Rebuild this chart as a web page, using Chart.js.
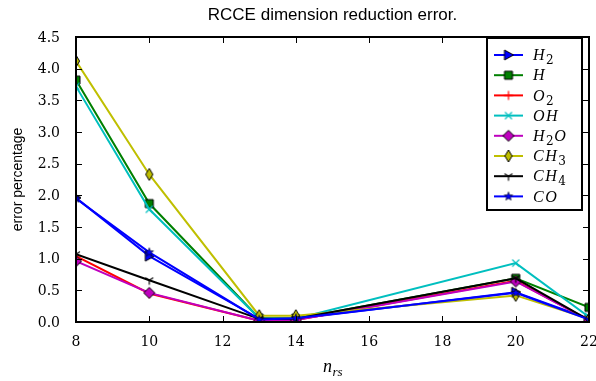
<!DOCTYPE html>
<html><head><meta charset="utf-8">
<script src="https://cdn.jsdelivr.net/npm/chart.js@4/dist/chart.umd.min.js"></script>
<style>html,body{margin:0;padding:0;background:#fff}#wrap{width:596px;height:381px}</style>
</head><body><div id="wrap"><canvas id="c" width="596" height="381"></canvas></div>
<script>
const xValues = [8, 10, 13, 14, 20, 22];
const seriesNames = ["H2", "H", "O2", "OH", "H2O", "CH3", "CH4", "CO"];
const H2  = [1.96, 1.04, 0.05, 0.05, 0.47, 0.05];
const H   = [3.82, 1.87, 0.06, 0.05, 0.69, 0.23];
const O2  = [1.04, 0.45, 0.02, 0.03, 0.65, 0.03];
const OH  = [3.72, 1.78, 0.06, 0.05, 0.93, 0.08];
const H2O = [0.96, 0.46, 0.02, 0.03, 0.64, 0.03];
const CH3 = [4.12, 2.33, 0.10, 0.10, 0.42, 0.05];
const CH4 = [1.07, 0.66, 0.05, 0.05, 0.69, 0.03];
const CO  = [1.95, 1.10, 0.04, 0.06, 0.46, 0.04];
const xTicks = [8, 10, 12, 14, 16, 18, 20, 22];
const yTicks = [0, 0.5, 1, 1.5, 2, 2.5, 3, 3.5, 4, 4.5];

const seriesValues = [H2, H, O2, OH, H2O, CH3, CH4, CO];
const colors = ["#0000ff", "#008000", "#ff0000", "#00bfbf", "#bf00bf", "#bfbf00", "#000000", "#0000ff"];
const markers = ["triRight", "square", "plus", "x", "diamond", "thinDiamond", "triDown", "star"];

function makeMarker(kind, color) {
  const s = 14, c = document.createElement('canvas');
  c.width = s; c.height = s;
  const g = c.getContext('2d');
  const m = s / 2;
  g.lineJoin = 'miter';
  g.fillStyle = color; g.strokeStyle = '#000'; g.lineWidth = 1;
  g.beginPath();
  if (kind === 'triRight') {
    g.moveTo(m + 5, m); g.lineTo(m - 4, m - 5); g.lineTo(m - 4, m + 5); g.closePath(); g.fill(); g.stroke();
  } else if (kind === 'square') {
    g.rect(m - 4, m - 4, 8, 8); g.fill(); g.stroke();
  } else if (kind === 'diamond') {
    g.moveTo(m, m - 5.5); g.lineTo(m + 5.5, m); g.lineTo(m, m + 5.5); g.lineTo(m - 5.5, m); g.closePath(); g.fill(); g.stroke();
  } else if (kind === 'thinDiamond') {
    g.moveTo(m, m - 6); g.lineTo(m + 3.6, m); g.lineTo(m, m + 6); g.lineTo(m - 3.6, m); g.closePath(); g.fill(); g.stroke();
  } else if (kind === 'plus') {
    g.strokeStyle = color; g.lineWidth = 1.2;
    g.moveTo(m - 4.5, m); g.lineTo(m + 4.5, m); g.moveTo(m, m - 4.5); g.lineTo(m, m + 4.5); g.stroke();
  } else if (kind === 'x') {
    g.strokeStyle = color; g.lineWidth = 1.2;
    g.moveTo(m - 3.5, m - 3.5); g.lineTo(m + 3.5, m + 3.5); g.moveTo(m + 3.5, m - 3.5); g.lineTo(m - 3.5, m + 3.5); g.stroke();
  } else if (kind === 'triDown') {
    g.strokeStyle = color; g.lineWidth = 1.2;
    g.moveTo(m, m); g.lineTo(m, m + 4.5); g.moveTo(m, m); g.lineTo(m - 4, m - 2.5); g.moveTo(m, m); g.lineTo(m + 4, m - 2.5); g.stroke();
  } else if (kind === 'star') {
    const R = 4.5, r = 1.9;
    for (let i = 0; i < 10; i++) {
      const a = -Math.PI / 2 + i * Math.PI / 5, rr = i % 2 ? r : R;
      const px = m + rr * Math.cos(a), py = m + rr * Math.sin(a);
      i ? g.lineTo(px, py) : g.moveTo(px, py);
    }
    g.closePath(); g.fill(); g.lineWidth = 0.6; g.stroke();
  }
  return c;
}
const markerImgs = markers.map((k, i) => makeMarker(k, colors[i]));

const datasets = seriesNames.map((name, i) => ({
  label: name,
  data: xValues.map((x, j) => ({ x: x, y: seriesValues[i][j] })),
  borderColor: colors[i],
  backgroundColor: colors[i],
  borderWidth: 2,
  pointStyle: markerImgs[i],
  pointRadius: 5,
  tension: 0,
  clip: 0,
  order: seriesNames.length - i
}));

function drawLabel(g, text, x, y, size) {
  // italic serif math text; digits become subscripts
  let cx = x;
  for (const ch of text) {
    if (/[0-9]/.test(ch)) {
      g.font = Math.round(size * 0.75) + 'px "DejaVu Serif"';
      g.fillText(ch, cx, y + size * 0.32);
      cx += g.measureText(ch).width + 0.5;
    } else {
      g.font = 'italic ' + size + 'px "Liberation Serif"';
      g.fillText(ch, cx, y);
      cx += g.measureText(ch).width + 1.5;
    }
  }
}

const decor = {
  id: 'decor',
  afterDatasetsDraw(chart) {
    const g = chart.ctx, a = chart.chartArea;
    const xs = chart.scales.x, ys = chart.scales.y;
    g.save();
    // frame
    g.strokeStyle = '#000'; g.lineWidth = 2;
    g.strokeRect(a.left, a.top, a.right - a.left, a.bottom - a.top);
    // inward ticks
    g.lineWidth = 1;
    g.beginPath();
    for (const t of xTicks) {
      const px = Math.round(xs.getPixelForValue(t)) + 0.5;
      g.moveTo(px, a.bottom); g.lineTo(px, a.bottom - 6);
      g.moveTo(px, a.top); g.lineTo(px, a.top + 6);
    }
    for (const t of yTicks) {
      const py = Math.round(ys.getPixelForValue(t)) + 0.5;
      g.moveTo(a.left, py); g.lineTo(a.left + 6, py);
      g.moveTo(a.right, py); g.lineTo(a.right - 6, py);
    }
    g.stroke();
    // tick labels
    g.fillStyle = '#000';
    g.font = '14px "DejaVu Serif"';
    g.textAlign = 'center'; g.textBaseline = 'middle';
    for (const t of xTicks) g.fillText(String(t), xs.getPixelForValue(t), a.bottom + 20);
    g.textAlign = 'right';
    for (const t of yTicks) g.fillText(t.toFixed(1), a.left - 16, ys.getPixelForValue(t) + 1);
    // title
    g.textAlign = 'center'; g.textBaseline = 'alphabetic';
    g.font = '17px "Liberation Sans"';
    g.fillText('RCCE dimension reduction error.', (a.left + a.right) / 2, 20);
    // y label
    g.save();
    g.translate(22, (a.top + a.bottom) / 2);
    g.rotate(-Math.PI / 2);
    g.font = '14px "Liberation Sans"';
    g.fillText('error percentage', 0, 0);
    g.restore();
    // x label n_rs
    g.textAlign = 'left';
    const cx = (a.left + a.right) / 2;
    g.font = 'italic 18px "Liberation Serif"';
    const nw = g.measureText('n').width;
    g.font = 'italic 13px "Liberation Serif"';
    const sw = g.measureText('rs').width;
    const sx = cx - (nw + sw) / 2;
    g.font = 'italic 18px "Liberation Serif"';
    g.fillText('n', sx, 372);
    g.font = 'italic 13px "Liberation Serif"';
    g.fillText('rs', sx + nw + 0.5, 376);
    // legend
    const lx = 487, ly = 38, lw = 95, lh = 172;
    g.fillStyle = '#fff';
    g.fillRect(lx, ly, lw, lh);
    g.strokeStyle = '#000'; g.lineWidth = 2;
    g.strokeRect(lx, ly, lw, lh);
    seriesNames.forEach((name, i) => {
      const y = ly + 17 + i * 20.2;
      g.strokeStyle = colors[i]; g.lineWidth = 2;
      g.beginPath(); g.moveTo(lx + 7, y); g.lineTo(lx + 36, y); g.stroke();
      g.drawImage(markerImgs[i], lx + 21.5 - 7, y - 7);
      g.fillStyle = '#000';
      g.textBaseline = 'middle';
      drawLabel(g, name, lx + 46, y + 1, 16);
    });
    g.restore();
  }
};

new Chart(document.getElementById('c'), {
  type: 'line',
  data: { datasets },
  options: {
    responsive: false,
    animation: false,
    devicePixelRatio: 1,
    layout: { padding: { left: 0, right: 2, top: 37, bottom: 0 } },
    plugins: { legend: { display: false }, tooltip: { enabled: false }, title: { display: false } },
    scales: {
      x: {
        type: 'linear', min: 8, max: 22,
        ticks: { display: false, stepSize: 2 },
        grid: { display: false },
        border: { display: false },
        afterFit(s) { s.height = 59; }
      },
      y: {
        min: 0, max: 4.5,
        ticks: { display: false, stepSize: 0.5 },
        grid: { display: false },
        border: { display: false },
        afterFit(s) { s.width = 76; }
      }
    }
  },
  plugins: [decor]
});
</script>
</body></html>
